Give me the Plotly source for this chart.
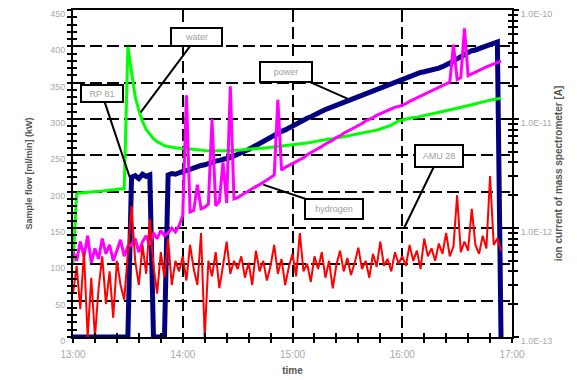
import math
import pandas as pd
import plotly.graph_objects as go

# ---------------- data ----------------
start_time = "2000-01-01 13:00"
sample_minutes = list(range(0, 236, 2))          # 118 samples, every 2 min

x_tick_labels = ["13:00", "14:00", "15:00", "16:00", "17:00"]
left_ticks = [0, 50, 100, 150, 200, 250, 300, 350, 400, 450]
right_tick_labels = ["1.0E-13", "1.0E-12", "1.0E-11", "1.0E-10"]
right_tick_values = [1e-13, 1e-12, 1e-11, 1e-10]

# power (left axis)
power = ([0] * 16 +
         [220, 222, 218, 224, 221, 223] +
         [0, 0, 0, 0] +
         [223, 225, 224, 227] +
         [228, 229, 231, 232, 234, 236, 237, 239, 240, 242, 243, 244, 246, 247, 249] +
         [252, 254, 256, 258, 261, 264, 267, 270, 272, 275, 277, 280, 283, 285, 288] +
         [291, 293, 296, 298, 301, 303, 306, 309, 311, 313, 315, 317, 319, 321, 323,
          325, 327, 329, 331, 333, 335, 337, 339, 341, 343, 345, 347, 349, 351, 353] +
         [354, 356, 358, 360, 362, 364, 365, 366, 368, 369, 370, 372, 374, 377, 380,
          383, 385, 388, 391, 394, 395, 397, 399, 401, 402, 404, 406, 0])

# water ion current (pA, right axis)
water_pA = ([0.46, 2.1, 2.1, 2.12, 2.12, 2.15, 2.15, 2.17, 2.18, 2.2, 2.2, 2.22, 2.25, 2.27, 2.3] +
            [46, 26, 16, 12, 9.5, 8, 7.2, 6.6, 6.2, 5.9, 5.7, 5.6, 5.5, 5.45, 5.4] +
            [5.4, 5.35, 5.3, 5.25, 5.2, 5.2, 5.15, 5.1, 5.1, 5.1, 5.05, 5.1, 5.1, 5.15, 5.15,
             5.2, 5.2, 5.25, 5.3, 5.3, 5.35, 5.4, 5.4, 5.45, 5.5, 5.5, 5.55, 5.6, 5.65, 5.7] +
            [5.8, 5.85, 5.9, 6.0, 6.05, 6.1, 6.2, 6.3, 6.35, 6.45, 6.55, 6.6, 6.7, 6.8, 6.9,
             7.0, 7.1, 7.2, 7.3, 7.4, 7.5, 7.65, 7.8, 7.9, 8.1, 8.3, 8.5, 8.8, 9.2, 9.6] +
            [9.8, 10, 10.1, 10.3, 10.4, 10.6, 10.8, 10.9, 11.1, 11.3, 11.5, 11.7, 11.9, 12.1,
             12.3, 12.5, 12.7, 13.0, 13.2, 13.5, 13.8, 14.1, 14.4, 14.7, 14.9, 15.1, 15.3, 15.5])

# hydrogen ion current (pA, right axis)
hydrogen_pA = ([0.6, 0.5, 0.75, 0.55, 0.85, 0.48, 0.65, 0.52, 0.8, 0.58, 0.7, 0.5, 0.62, 0.78, 0.55, 0.68] +
               [0.7, 0.8, 0.6, 0.75, 0.85, 0.7, 0.9, 0.8, 0.95, 0.85, 0.9, 1.0, 0.92, 1.05] +
               [1.3, 16.5, 1.4, 1.45, 2.5, 1.5, 1.55, 1.65, 10, 1.6, 1.75, 4, 1.7, 20, 1.85] +
               [1.9, 2.0, 2.1, 2.2, 2.3, 2.4, 2.5, 2.6, 2.75, 2.9, 3.05, 15, 3.4, 3.6, 3.75] +
               [3.9, 4.1, 4.3, 4.4, 4.7, 4.9, 5.1, 5.4, 5.6, 5.9, 6.1, 6.4, 6.8, 7.0, 7.4,
                7.7, 8.0, 8.4, 8.8, 9.1, 9.6, 9.9, 10.3, 10.8, 11.2, 11.5, 12.0, 12.3, 12.8, 13.0] +
               [13.3, 13.8, 14.5, 15, 15.5, 16.2, 16.8, 17.5, 18, 18.8, 19.5, 20.3, 21, 21.8,
                48, 23, 24, 68, 25, 26, 27, 28, 29, 30, 31, 32, 33, 34])

# AMU 28 ion current (pA, right axis)
amu28_pA = ([0.25, 0.45, 0.18, 0.6, 0.1, 0.35, 0.1, 0.28, 0.55, 0.2, 0.4, 0.15, 0.5, 0.3, 0.22, 0.65] +
            [1.6, 0.5, 0.3, 0.7, 0.38, 1.2, 0.45, 0.25, 0.6, 0.35, 0.8, 0.3, 0.5, 0.4] +
            [0.55, 0.33, 0.7, 0.42, 0.3, 0.9, 0.1, 0.5, 0.36, 0.6, 0.28, 0.45, 0.75, 0.38, 0.5] +
            [0.42, 0.55, 0.35, 0.48, 0.3, 0.62, 0.4, 0.5, 0.33, 0.45, 0.7, 0.38, 0.52, 0.3, 0.44,
             0.58, 0.36, 0.9, 0.4, 0.47, 0.32, 0.55, 0.42, 0.6, 0.35, 0.5, 0.28, 0.46, 0.62, 0.4,
             0.53, 0.37, 0.48, 0.66, 0.42, 0.5, 0.35, 0.58, 0.44, 0.75, 0.45, 0.52, 0.4, 0.6, 0.47] +
            [0.55, 0.45, 0.7, 0.5, 0.62, 0.42, 0.8, 0.55, 0.65, 0.5, 0.72, 0.58, 0.9, 0.55, 0.68,
             2.0, 0.6, 0.75, 0.62, 1.5, 0.7, 0.58, 0.85, 0.65, 3.0, 0.7, 0.8, 0.62])

# annotation labels
labels = ["RP 81", "water", "power", "hydrogen", "AMU 28"]
label_minutes = [31, 37, 150, 104, 181]
label_values = [220, 1.15e-11, 328, 2.5e-12, 1.0e-12]
label_axes = ["y", "y2", "y", "y2", "y2"]

# ---------------- build ----------------
t0 = pd.Timestamp(start_time)
times = [t0 + pd.Timedelta(minutes=m) for m in sample_minutes]
to_A = lambda arr: [v * 1e-12 for v in arr]
hour_ticks = [t0 + pd.Timedelta(hours=h) for h in range(5)]
x_range = [hour_ticks[0], hour_ticks[-1]]

fig = go.Figure()
fig.add_trace(go.Scatter(x=times, y=power, mode="lines", name="power",
                         line=dict(color="#000080", width=5), xaxis="x", yaxis="y"))
fig.add_trace(go.Scatter(x=times, y=to_A(water_pA), mode="lines", name="water",
                         line=dict(color="#00FF00", width=3), xaxis="x", yaxis="y2"))
fig.add_trace(go.Scatter(x=times, y=to_A(hydrogen_pA), mode="lines", name="hydrogen",
                         line=dict(color="#FF00FF", width=3), xaxis="x", yaxis="y2"))
fig.add_trace(go.Scatter(x=times, y=to_A(amu28_pA), mode="lines", name="AMU 28",
                         line=dict(color="#FF0000", width=2), xaxis="x", yaxis="y2"))

tick_font = dict(family="Liberation Sans", size=10, color="#a8a8a8")
ytick_font = dict(family="Liberation Sans", size=9, color="#a8a8a8")
title_font = dict(family="Liberation Sans", size=9, color="#555555")
grid = dict(showgrid=True, gridcolor="black", gridwidth=2, griddash="12px,5px")

minor_log = [m * d for d in [1e-13, 1e-12, 1e-11] for m in range(2, 10)]

fig.update_layout(
    width=569, height=372,
    margin=dict(l=65, r=65, t=2, b=43, autoexpand=False),
    paper_bgcolor="white", plot_bgcolor="white",
    showlegend=False,
    xaxis=dict(type="date", range=x_range, tickmode="array", tickvals=hour_ticks,
               ticktext=x_tick_labels, tickfont=tick_font, automargin=False,
               ticklabeloverflow="allow", ticklabelstandoff=3,
               showline=True, linecolor="black", linewidth=2, mirror=True,
               ticks="outside", ticklen=4, tickwidth=2, tickcolor="black",
               minor=dict(dtick=720000, ticks="outside", ticklen=4, tickwidth=2,
                          tickcolor="black", showgrid=False),
               title=dict(text="<b>time</b>", font=dict(family="Liberation Sans", size=10,
                                                        color="#555555"), standoff=8),
               zeroline=False, **grid),
    xaxis2=dict(type="date", range=x_range, overlaying="x", anchor="y", side="bottom",
                tickmode="array", tickvals=hour_ticks, showticklabels=False, automargin=False,
                ticks="inside", ticklen=4, tickwidth=2, tickcolor="black",
                minor=dict(dtick=720000, ticks="inside", ticklen=4, tickwidth=2,
                           tickcolor="black", showgrid=False),
                showgrid=False, showline=False, zeroline=False),
    yaxis=dict(range=[0, 450], tickmode="array", tickvals=left_ticks, tickfont=ytick_font,
               automargin=False, ticklabeloverflow="allow", ticklabelshift=4,
               showline=True, linecolor="black", linewidth=2,
               ticks="outside", ticklen=4, tickwidth=2, tickcolor="black",
               minor=dict(dtick=10, ticks="outside", ticklen=4, tickwidth=2,
                          tickcolor="black", showgrid=False),
               title=dict(text="<b>Sample flow [ml/min] (kW)</b>", font=title_font, standoff=16),
               zeroline=False, **grid),
    yaxis3=dict(range=[0, 450], overlaying="y", anchor="x", side="left", automargin=False,
                tickmode="array", tickvals=left_ticks, showticklabels=False,
                ticks="inside", ticklen=4, tickwidth=2, tickcolor="black",
                minor=dict(dtick=10, ticks="inside", ticklen=4, tickwidth=2,
                           tickcolor="black", showgrid=False),
                showgrid=False, showline=False, zeroline=False),
    yaxis2=dict(type="log", range=[-13, -10], overlaying="y", side="right", anchor="x",
                tickmode="array", tickvals=right_tick_values, ticktext=right_tick_labels,
                tickfont=ytick_font, automargin=False, ticklabeloverflow="allow",
                ticklabelshift=4,
                showline=True, linecolor="black", linewidth=2,
                ticks="outside", ticklen=5, tickwidth=2, tickcolor="black",
                minor=dict(tickmode="array", tickvals=minor_log, ticks="outside",
                           ticklen=4, tickwidth=2, tickcolor="black", showgrid=False),
                title=dict(text="<b>ion current of mass spectrometer [A]</b>",
                           font=dict(family="Liberation Sans", size=10, color="#555555"),
                           standoff=4),
                showgrid=False, zeroline=False),
    yaxis4=dict(type="log", range=[-13, -10], overlaying="y", side="right", anchor="x",
                tickmode="array", tickvals=right_tick_values, showticklabels=False,
                automargin=False,
                ticks="inside", ticklen=5, tickwidth=2, tickcolor="black",
                minor=dict(tickmode="array", tickvals=minor_log, ticks="inside",
                           ticklen=4, tickwidth=2, tickcolor="black", showgrid=False),
                showgrid=False, showline=False, zeroline=False),
)

# invisible anchors so the overlay tick axes get drawn
fig.add_trace(go.Scatter(x=[x_range[0]], y=[0], xaxis="x2", yaxis="y3", mode="markers",
                         marker=dict(opacity=0), hoverinfo="skip"))
fig.add_trace(go.Scatter(x=[x_range[0]], y=[1e-13], xaxis="x2", yaxis="y4", mode="markers",
                         marker=dict(opacity=0), hoverinfo="skip"))

offsets = [(-28, -84, 36, 11), (56, -75, 45, 12), (-61, -27, 46, 14), (71, 24, 52, 14), (35, -72, 42, 16)]
for text, m, val, axis, (ax, ay, w, h) in zip(labels, label_minutes, label_values, label_axes, offsets):
    yv = math.log10(val) if axis == "y2" else val
    fig.add_annotation(x=t0 + pd.Timedelta(minutes=m), y=yv, xref="x", yref=axis,
                       text=text, showarrow=True, arrowhead=0, arrowwidth=2,
                       arrowcolor="black", ax=ax, ay=ay, standoff=0,
                       bordercolor="black", borderwidth=2, borderpad=2,
                       bgcolor="white", width=w, height=h,
                       font=dict(family="Liberation Sans", size=9, color="#a0a0a0"))

fig.write_html("out.html")
